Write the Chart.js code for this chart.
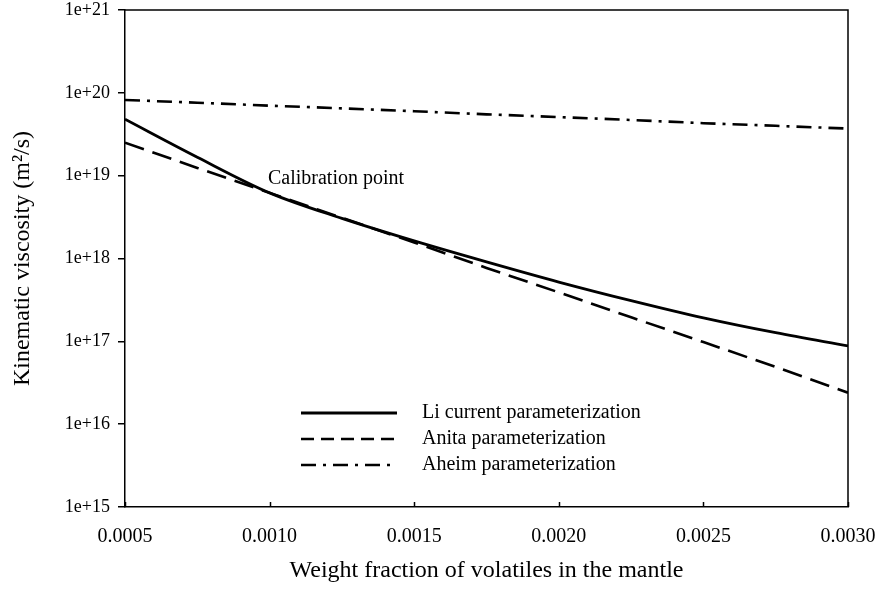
<!DOCTYPE html>
<html>
<head>
<meta charset="utf-8">
<title>Kinematic viscosity vs volatiles</title>
<script src="https://cdn.jsdelivr.net/npm/chart.js@4/dist/chart.umd.min.js"></script>
<style>
  html, body { margin: 0; padding: 0; background: #fff; }
  #wrap { width: 880px; height: 597px; }
</style>
</head>
<body>
<div id="wrap"><canvas id="viscosityChart" width="880" height="597"></canvas></div>
<script>
// weight fraction of volatiles (x)
const fractions = [0.0005, 0.00075, 0.0010, 0.00125, 0.0015, 0.00175, 0.0020, 0.00225, 0.0025, 0.00275, 0.0030];
// viscosity, m^2/s
const liValues    = [4.8e19, 1.67e19, 6.2e18, 3.05e18, 1.63e18, 9.1e17, 5.2e17, 3.1e17, 1.92e17, 1.27e17, 8.8e16];
const anitaValues = [2.5e19, 1.24e19, 6.2e18, 3.1e18, 1.56e18, 7.7e17, 3.9e17, 1.95e17, 9.8e16, 4.9e16, 2.4e16];
const aheimValues = [8.2e19, 7.6e19, 7.0e19, 6.5e19, 6.0e19, 5.5e19, 5.1e19, 4.7e19, 4.3e19, 4.0e19, 3.7e19];

const xTicks = [0.0005, 0.0010, 0.0015, 0.0020, 0.0025, 0.0030];
const yTicks = [1e15, 1e16, 1e17, 1e18, 1e19, 1e20, 1e21];

const seriesNames = ["Li current parameterization", "Anita parameterization", "Aheim parameterization"];
const annotationText = "Calibration point";

const SERIF = "'Liberation Serif', 'DejaVu Serif', serif";

function toPoints(values) {
  return fractions.map((x, i) => ({ x: x, y: values[i] }));
}

function expLabel(v) {
  const p = Math.round(Math.log10(v));
  return "1e+" + p;
}

// box, inward x ticks, legend and the calibration label
const extrasPlugin = {
  id: "extras",
  afterDatasetsDraw(chart) {
    const { ctx, chartArea: a, scales } = chart;
    ctx.save();
    ctx.strokeStyle = "#000";
    ctx.lineWidth = 1.5;
    ctx.beginPath();
    ctx.moveTo(a.left, a.top);
    ctx.lineTo(a.right, a.top);
    ctx.lineTo(a.right, a.bottom);
    ctx.stroke();

    // x ticks point into the plot
    ctx.beginPath();
    xTicks.forEach(v => {
      const px = Math.round(scales.x.getPixelForValue(v)) + 0.5;
      ctx.moveTo(px, a.bottom);
      ctx.lineTo(px, a.bottom - 5);
    });
    ctx.stroke();

    ctx.fillStyle = "#000";
    ctx.font = "20px " + SERIF;
    ctx.textBaseline = "middle";
    ctx.textAlign = "left";
    ctx.fillText(annotationText, a.left + 143, 179);

    // legend
    const lx = a.left + 176, lw = 96, tx = a.left + 297;
    const rows = [413, 439, 465];
    chart.data.datasets.forEach((ds, i) => {
      ctx.beginPath();
      ctx.lineWidth = ds.borderWidth;
      ctx.setLineDash(ds.legendDash || []);
      ctx.moveTo(lx, rows[i]);
      ctx.lineTo(lx + lw, rows[i]);
      ctx.stroke();
      ctx.setLineDash([]);
      ctx.fillText(ds.label, tx, rows[i]);
    });
    ctx.restore();
  }
};

document.addEventListener("DOMContentLoaded", () => {
  const canvas = document.getElementById("viscosityChart");
  const ctx = canvas.getContext("2d");

  new Chart(ctx, {
    type: "line",
    data: {
      datasets: [
        {
          label: seriesNames[0],
          data: toPoints(liValues),
          borderColor: "#000",
          borderWidth: 2.8,
          cubicInterpolationMode: "monotone",
          legendDash: []
        },
        {
          label: seriesNames[1],
          data: toPoints(anitaValues),
          borderColor: "#000",
          borderWidth: 2.6,
          borderDash: [20, 9],
          legendDash: [13, 7],
          tension: 0
        },
        {
          label: seriesNames[2],
          data: toPoints(aheimValues),
          borderColor: "#000",
          borderWidth: 2.6,
          borderDash: [15, 7, 3, 7],
          legendDash: [15, 7, 3, 7],
          tension: 0
        }
      ]
    },
    options: {
      responsive: false,
      animation: false,
      layout: { padding: { top: 10, right: 32, bottom: 0, left: 0 } },
      elements: { point: { radius: 0 } },
      plugins: {
        legend: { display: false },
        tooltip: { enabled: false }
      },
      scales: {
        x: {
          type: "linear",
          min: 0.0005,
          max: 0.0030,
          afterBuildTicks: scale => { scale.ticks = xTicks.map(v => ({ value: v })); },
          afterFit: scale => {
            scale.height = 90;
            scale.paddingLeft = 0;
            scale.paddingRight = 0;
          },
          grid: { display: false },
          border: { display: true, color: "#000", width: 1.5 },
          ticks: {
            color: "#000",
            padding: 10,
            font: { family: SERIF, size: 20 },
            callback: v => Number(v).toFixed(4)
          },
          title: {
            display: true,
            text: "Weight fraction of volatiles in the mantle",
            color: "#000",
            font: { family: SERIF, size: 24 },
            padding: { top: 0, bottom: 12 }
          }
        },
        y: {
          type: "logarithmic",
          min: 1e15,
          max: 1e21,
          afterBuildTicks: scale => { scale.ticks = yTicks.map(v => ({ value: v })); },
          afterFit: scale => {
            scale.width = 125;
            scale.paddingTop = 0;
            scale.paddingBottom = 0;
          },
          grid: {
            display: true,
            drawOnChartArea: false,
            drawTicks: true,
            tickLength: 7,
            color: "#000",
            lineWidth: 1.5
          },
          border: { display: true, color: "#000", width: 1.5 },
          ticks: {
            color: "#000",
            padding: 8,
            font: { family: SERIF, size: 18 },
            callback: v => expLabel(v)
          },
          title: {
            display: true,
            text: "Kinematic viscosity (m²/s)",
            color: "#000",
            font: { family: SERIF, size: 24 },
            padding: { top: 8, bottom: 0 }
          }
        }
      }
    },
    plugins: [extrasPlugin]
  });
});
</script>
</body>
</html>
